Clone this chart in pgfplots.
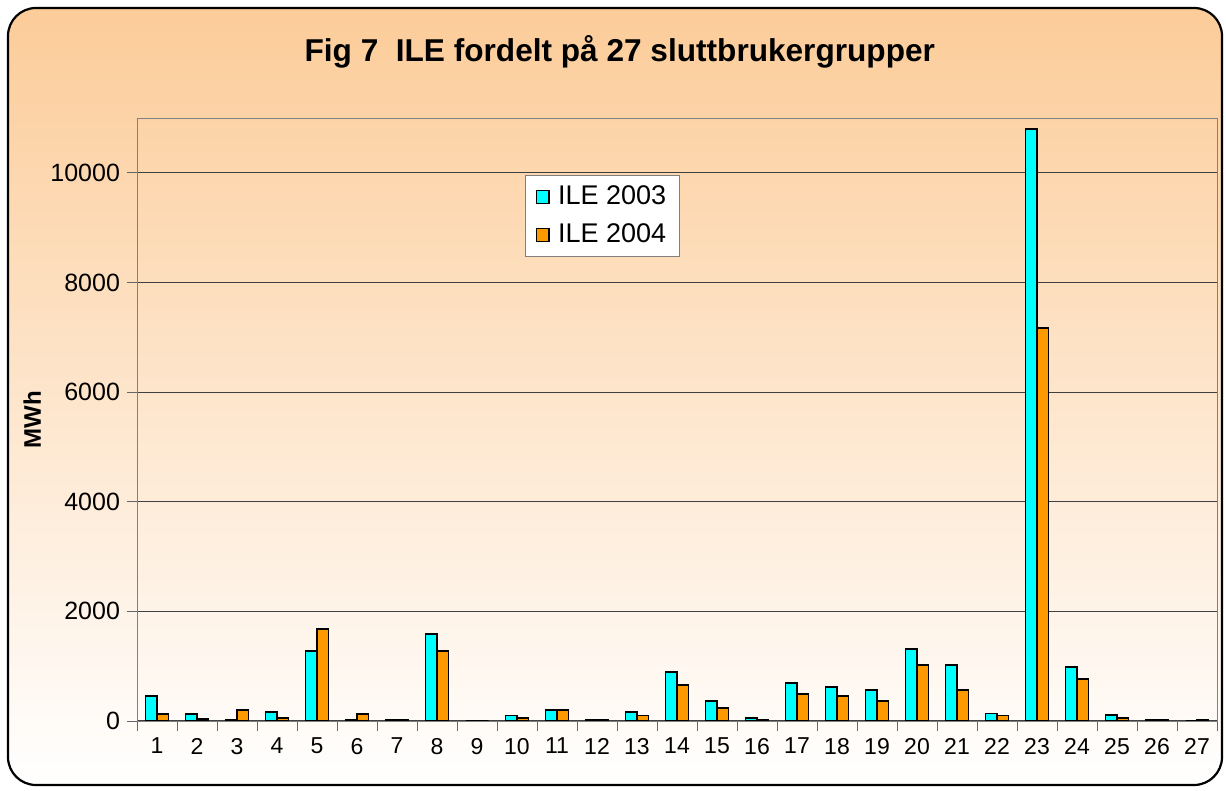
\documentclass[border=0pt]{standalone}
\usepackage{fontspec}
\setmainfont{Liberation Sans}
\usepackage{pgfplots}
\pgfplotsset{compat=1.18}
\definecolor{bgorange}{RGB}{252,204,153}
\definecolor{barcyan}{RGB}{0,255,255}
\definecolor{barorange}{RGB}{255,153,0}

\begin{document}
\begin{tikzpicture}
  % frame, in pixel units of the reference (origin = lower left of plot area)
  \begin{scope}[x=0.5pt,y=0.5pt]
    \path[use as bounding box] (-137,-70) rectangle (1089,721);
    \draw[line width=1.1pt, rounded corners=14pt, top color=bgorange, bottom color=white]
      (-129,-64) rectangle (1085,713);
  \end{scope}
  \begin{axis}[
    at={(0,0)}, anchor=south west,
    scale only axis,
    width=540pt, height=301.5pt,
    ybar=0pt, bar width=5.75pt,
    xmin=0.5, xmax=27.5,
    ymin=0, ymax=11000,
    xtick={1,...,27},
    minor xtick={0.5,1.5,...,27.5},
    major x tick style={draw=none},
    minor tick length=5pt,
    major tick length=5pt,
    ytick={0,2000,...,10000},
    scaled y ticks=false,
    tick align=outside,
    tick pos=left,
    ymajorgrids,
    grid style={black!75, line width=0.5pt},
    axis line style={black!50},
    every tick/.style={black!60},
    /pgf/number format/assume math mode=true,
    /pgf/number format/1000 sep={},
    yticklabel style={font=\fontsize{12.5}{14}\selectfont},
    xticklabel style={font=\fontsize{11.5}{14}\selectfont},
    title={Fig 7\ \ ILE fordelt på 27 sluttbrukergrupper},
    title style={at={(axis description cs:0.447,1.089)}, anchor=center,
                 font=\bfseries\fontsize{15.8}{18}\selectfont},
    ylabel={MWh},
    ylabel style={at={(axis description cs:-0.097,0.5)}, anchor=center,
                  font=\bfseries\fontsize{12}{14}\selectfont},
    legend style={at={(0.359,0.906)}, anchor=north west, draw=black!50, fill=white,
                  font=\fontsize{13.5}{16}\selectfont, row sep=4pt,
                  inner xsep=4.5pt, inner ysep=3.5pt},
    legend image code/.code={\draw[#1, line width=0.6pt] (1pt,-3.2pt) rectangle (7.4pt,3.2pt);
                             \path[draw=none, fill=none] (0pt,0pt) -- (10pt,0pt);},
  ]
    \addplot[fill=barcyan, draw=black, line width=0.9pt] coordinates {
      (1,460) (2,125) (3,25) (4,165) (5,1280) (6,25) (7,25) (8,1580) (9,0)
      (10,100) (11,195) (12,25) (13,165) (14,890) (15,360) (16,60) (17,690) (18,625)
      (19,560) (20,1315) (21,1020) (22,135) (23,10800) (24,985) (25,110) (26,25) (27,0)};
    \addplot[fill=barorange, draw=black, line width=0.9pt] coordinates {
      (1,125) (2,30) (3,195) (4,60) (5,1680) (6,125) (7,25) (8,1280) (9,0)
      (10,60) (11,195) (12,25) (13,100) (14,660) (15,230) (16,25) (17,490) (18,460)
      (19,365) (20,1020) (21,560) (22,100) (23,7170) (24,760) (25,60) (26,25) (27,25)};
    \legend{ILE 2003, ILE 2004}
  \end{axis}
\end{tikzpicture}
\end{document}
